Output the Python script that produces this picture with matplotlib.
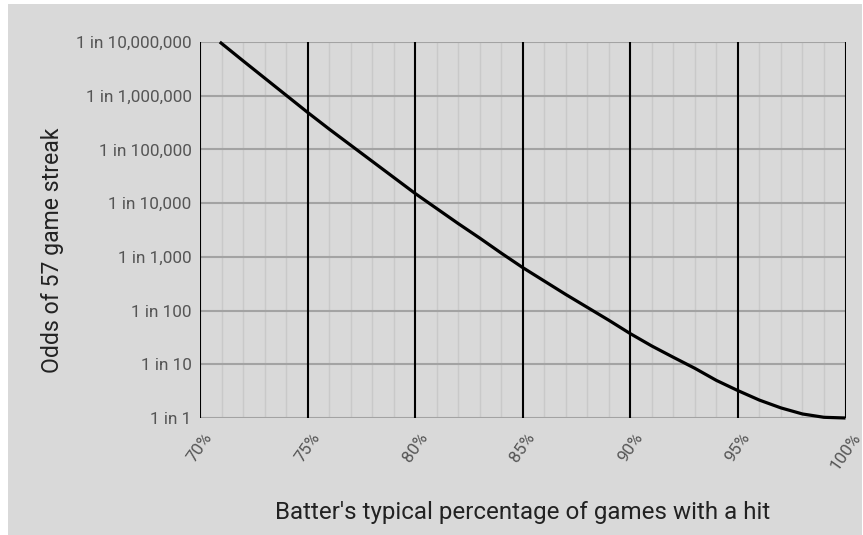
import matplotlib.pyplot as plt
import matplotlib.ticker as mticker
import numpy as np

# Chance of a 57-game hitting streak vs. how often a batter gets a hit
hit_pct = [70.92, 72, 73, 74, 75, 76, 77, 78, 79, 80,
           81, 82, 83, 84, 85, 86, 87, 88, 89, 90,
           91, 92, 93, 94, 95, 96, 97, 98, 99, 100]
log_odds = [7.00, 6.65, 6.33, 6.01, 5.69, 5.38, 5.08, 4.78, 4.48, 4.18,
            3.90, 3.62, 3.35, 3.07, 2.80, 2.55, 2.30, 2.06, 1.82, 1.57,
            1.34, 1.13, 0.925, 0.70, 0.51, 0.333, 0.188, 0.075, 0.013, 0.0]

x_ticks = [70, 75, 80, 85, 90, 95, 100]
x_tick_labels = ["70%", "75%", "80%", "85%", "90%", "95%", "100%"]
y_ticks = [1, 10, 100, 1000, 10000, 100000, 1000000, 10000000]
y_tick_labels = ["1 in 1", "1 in 10", "1 in 100", "1 in 1,000", "1 in 10,000",
                 "1 in 100,000", "1 in 1,000,000", "1 in 10,000,000"]

plt.rcParams['font.family'] = ['Roboto', 'DejaVu Sans']

bg = "#d9d9d9"
fig = plt.figure(figsize=(8.63, 5.35), dpi=100, facecolor="white")
# grey panel with a thin white margin at top/left
fig.patches.append(plt.Rectangle((8 / 863, 0), 1 - 9 / 863, 1 - 4 / 535,
                                 transform=fig.transFigure, facecolor=bg,
                                 edgecolor="none", zorder=-10))

ax = fig.add_axes([200 / 863, 1 - 418 / 535, 645.5 / 863, 376 / 535])
ax.set_facecolor(bg)

odds = 10 ** np.array(log_odds)
ax.plot(hit_pct, odds, color="black", lw=2.3, solid_capstyle="butt", zorder=5,
        clip_on=False)

ax.set_yscale("log")
ax.set_xlim(70, 100)
ax.set_ylim(1, 1e7)

# grid: minor vertical every 1%, major black every 5%, grey decade lines
for v in range(71, 100):
    if v % 5:
        ax.axvline(v, color="#c9c9c9", lw=1.0, zorder=1)
for v in x_ticks:
    ax.axvline(v, color="black", lw=1.5, zorder=3)
for v in y_ticks:
    ax.axhline(v, color="#a3a3a3", lw=1.5, zorder=2)

ax.set_xticks(x_ticks)
ax.set_xticklabels(x_tick_labels, rotation=55, ha="center", va="top",
                   color="#555555", fontsize=12.3)
ax.set_yticks(y_ticks)
ax.set_yticklabels(y_tick_labels, color="#555555", fontsize=12.3)
ax.yaxis.set_minor_locator(mticker.NullLocator())
ax.tick_params(axis="both", length=0)
ax.tick_params(axis="x", pad=9)
ax.tick_params(axis="y", pad=6)

for s in ax.spines.values():
    s.set_visible(False)

fig.text(522.5 / 863, 1 - 512 / 535, "Batter's typical percentage of games with a hit",
         ha="center", va="center", fontsize=17.4, color="#222222")
fig.text(52 / 863, 1 - 250 / 535, "Odds of 57 game streak", rotation=90,
         ha="center", va="center", fontsize=16.6, color="#222222")

fig.savefig("out.png", dpi=100, facecolor="white")
